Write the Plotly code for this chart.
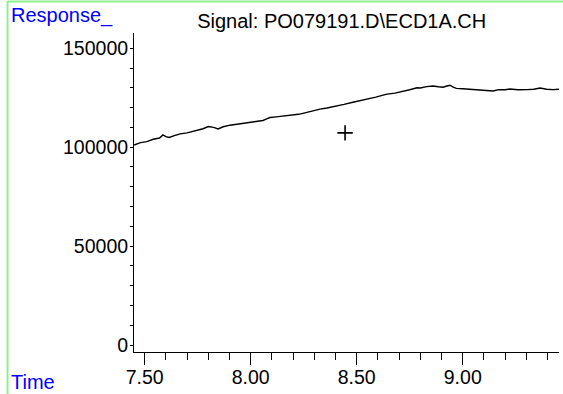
import plotly.graph_objects as go

# signal trace (time in min, response)
times = [7.450, 7.480, 7.510, 7.540, 7.570, 7.586, 7.600, 7.615, 7.640, 7.667,
         7.700, 7.725, 7.747, 7.775, 7.800, 7.825, 7.846, 7.870, 7.902, 7.930,
         7.960, 7.996, 8.030, 8.058, 8.075, 8.091, 8.120, 8.150, 8.171, 8.200,
         8.225, 8.246, 8.270, 8.300, 8.327, 8.360, 8.385, 8.407, 8.440, 8.482,
         8.510, 8.540, 8.563, 8.590, 8.620, 8.643, 8.680, 8.718, 8.750, 8.784,
         8.800, 8.830, 8.860, 8.885, 8.907, 8.925, 8.940, 8.955, 8.970, 9.000,
         9.034, 9.070, 9.100, 9.143, 9.170, 9.200, 9.223, 9.260, 9.303, 9.335,
         9.365, 9.395, 9.426, 9.454]
response = [101100, 102300, 102800, 104000, 104600, 106200, 105300, 104900, 105800, 106700,
            107200, 107900, 108400, 109300, 110400, 110000, 109200, 110300, 111100, 111500,
            112000, 112800, 113000, 113500, 114300, 115000, 115300, 115600, 115900, 116400,
            116600, 117100, 117800, 118400, 119200, 119800, 120300, 120800, 121600, 122700,
            123300, 124200, 124700, 125300, 126200, 126800, 127300, 128100, 129000, 130000,
            129900, 130600, 130900, 130500, 130300, 130900, 131300, 130300, 129700, 129500,
            129300, 129000, 128900, 128400, 129100, 129000, 129400, 129000, 129100, 129300,
            129900, 129300, 129100, 129300]

cursor_t = [8.445]
cursor_v = [107200]

font = "Arial, Liberation Sans, sans-serif"
green = "#90ee90"

fig = go.Figure()
fig.add_trace(go.Scatter(x=times, y=response, mode="lines",
                         line=dict(color="black", width=1.4), showlegend=False))
fig.add_trace(go.Scatter(x=cursor_t, y=cursor_v, mode="markers",
                         marker=dict(symbol="cross-thin", size=11,
                                     line=dict(color="black", width=1.6)),
                         showlegend=False))

fig.update_layout(
    width=563, height=394,
    margin=dict(l=134, r=4, t=33, b=42),
    paper_bgcolor="white", plot_bgcolor="white",
    font=dict(family=font, size=19.5, color="black"),
    title=dict(text="Signal: PO079191.D\\ECD1A.CH", x=0.607, y=0.947,
               xanchor="center", yanchor="middle", font=dict(size=20)),
    xaxis=dict(range=[7.4495, 9.454], tick0=7.5, dtick=0.5, tickformat=".2f",
               ticks="outside", ticklen=12, tickcolor="black",
               ticklabelstandoff=-4,
               showline=True, linecolor="black", linewidth=1,
               showgrid=False, zeroline=False, automargin=False,
               minor=dict(dtick=0.1, tick0=7.5, ticks="outside", ticklen=7,
                          tickcolor="black", showgrid=False)),
    yaxis=dict(range=[-3540, 157700], tick0=0, dtick=50000, tickformat="d",
               ticks="outside", ticklen=3, tickcolor="black",
               ticklabelstandoff=-2,
               showline=True, linecolor="black", linewidth=1,
               showgrid=False, zeroline=False, automargin=False,
               minor=dict(dtick=10000, ticks="outside", ticklen=3,
                          tickcolor="black", showgrid=False)),
    annotations=[
        dict(text="Response_", xref="paper", yref="paper", x=-0.294, y=1.0564,
             xanchor="left", yanchor="middle", showarrow=False,
             font=dict(color="blue", size=20)),
        dict(text="Time", xref="paper", yref="paper", x=-0.294, y=-0.094,
             xanchor="left", yanchor="middle", showarrow=False,
             font=dict(color="blue", size=20)),
    ],
    shapes=[
        dict(type="line", xref="paper", yref="paper", x0=-0.2976, x1=-0.2976,
             y0=-0.1317, y1=1.1003, line=dict(color=green, width=2)),
        dict(type="line", xref="paper", yref="paper", x0=-0.2976, x1=1.0094,
             y0=1.0987, y1=1.0987, line=dict(color=green, width=2)),
    ],
)

# drop the browser's default body margin so the figure sits at the window corner
fig.write_html("out.html", config={"displayModeBar": False},
               post_script="document.body.style.margin='0';")
